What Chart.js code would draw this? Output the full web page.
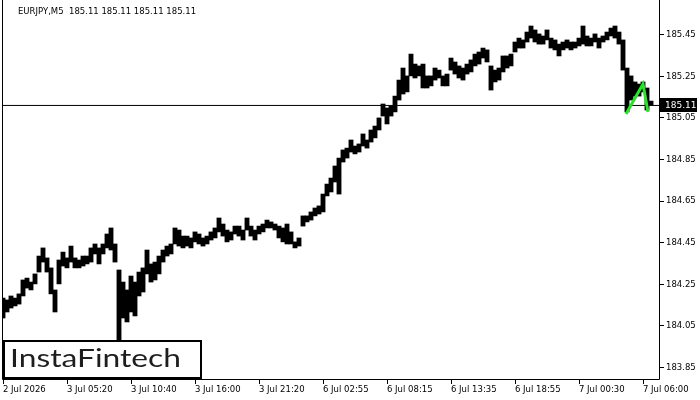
<!DOCTYPE html>
<html>
<head>
<meta charset="utf-8">
<script src="https://cdn.jsdelivr.net/npm/chart.js@4/dist/chart.umd.min.js"></script>
<style>
html,body{margin:0;padding:0;background:#fff;}
canvas{display:block;}
</style>
</head>
<body>
<canvas id="c" width="700" height="400"></canvas>
<script>
// ---- data (one sample every 4 bars of 5 minutes) ----
const symbolTitle = 'EURJPY,M5  185.11 185.11 185.11 185.11';
const xTickLabels = ['2 Jul 2026','3 Jul 05:20','3 Jul 10:40','3 Jul 16:00','3 Jul 21:20','6 Jul 02:55','6 Jul 08:15','6 Jul 13:35','6 Jul 18:55','7 Jul 00:30','7 Jul 06:00'];
const xTickPositions = [0,16,32,48,64,80,96,112,128,144,160];
const yTickValues = [183.85,184.05,184.25,184.45,184.65,184.85,185.05,185.25,185.45];
const lastPrice = 185.11;

const highs = [
184.184,184.175,184.194,184.184,184.204,184.271,184.280,184.261,184.300,184.386,
184.425,184.377,184.329,184.223,184.367,184.405,184.377,184.434,184.377,184.367,
184.386,184.386,184.425,184.444,184.425,184.444,184.492,184.521,184.444,184.319,
184.261,184.223,184.290,184.261,184.309,184.329,184.415,184.348,184.357,184.386,
184.415,184.434,184.444,184.521,184.511,184.482,184.482,184.473,184.502,184.492,
184.473,184.482,184.502,184.521,184.569,184.540,184.511,184.502,184.530,184.530,
184.511,184.569,184.530,184.511,184.530,184.540,184.559,184.550,184.540,184.530,
184.521,184.540,184.502,184.454,184.473,184.579,184.579,184.598,184.617,184.627,
184.684,184.732,184.761,184.819,184.857,184.896,184.905,184.944,184.915,184.925,
184.973,184.944,184.992,185.011,185.050,185.117,185.098,185.107,185.155,185.232,
185.290,185.252,185.357,185.309,185.300,185.309,185.252,185.252,185.290,185.280,
185.252,185.261,185.338,185.319,185.300,185.290,185.309,185.329,185.357,185.367,
185.386,185.377,185.300,185.280,185.290,185.348,185.348,185.357,185.415,185.434,
185.425,185.463,185.492,185.473,185.454,185.444,185.473,185.434,185.425,185.405,
185.415,185.425,185.415,185.415,185.434,185.492,185.444,185.434,185.454,185.434,
185.444,185.463,185.482,185.492,185.463,185.425,185.290,185.252,185.223,185.213,
185.223,185.194,185.131
];
const lows = [
184.088,184.117,184.136,184.146,184.155,184.194,184.232,184.223,184.252,184.309,
184.357,184.309,184.204,184.117,184.252,184.338,184.329,184.357,184.329,184.329,
184.338,184.348,184.357,184.396,184.348,184.396,184.425,184.415,184.357,183.982,
184.088,184.069,184.117,184.098,184.194,184.213,184.300,184.261,184.271,184.300,
184.357,184.386,184.396,184.444,184.434,184.425,184.434,184.425,184.454,184.444,
184.434,184.444,184.463,184.473,184.502,184.482,184.454,184.463,184.492,184.482,
184.463,184.511,184.482,184.463,184.492,184.502,184.521,184.521,184.511,184.473,
184.454,184.444,184.444,184.425,184.434,184.530,184.550,184.559,184.579,184.588,
184.598,184.675,184.694,184.742,184.684,184.838,184.857,184.886,184.877,184.886,
184.915,184.905,184.934,184.954,184.992,185.059,185.021,185.059,185.079,185.136,
185.165,185.175,185.252,185.242,185.252,185.194,185.194,185.204,185.232,185.242,
185.204,185.204,185.280,185.261,185.242,185.232,185.261,185.271,185.300,185.309,
185.338,185.319,185.184,185.223,185.232,185.271,185.290,185.300,185.367,185.386,
185.386,185.415,185.434,185.415,185.405,185.405,185.425,185.386,185.377,185.348,
185.377,185.386,185.377,185.386,185.396,185.405,185.396,185.396,185.415,185.386,
185.415,185.425,185.444,185.434,185.405,185.280,185.079,185.136,185.155,185.155,
185.175,185.088,185.112
];
// green pattern drawn at the end (sample position, price)
const patternPos = [155.75, 160, 161.25];
const patternPrice = [185.069, 185.213, 185.079];

Chart.defaults.font.family = 'DejaVu Sans';
Chart.defaults.font.size = 8.5;
Chart.defaults.color = '#000';

const decor = {
  id: 'decor',
  afterDraw(chart) {
    const {ctx, chartArea: a, scales: {y}} = chart;
    ctx.save();
    // frame (left, right, bottom)
    ctx.strokeStyle = '#000';
    ctx.lineWidth = 1;
    ctx.beginPath();
    ctx.moveTo(a.left + 0.5, a.top);
    ctx.lineTo(a.left + 0.5, a.bottom - 0.5);
    ctx.lineTo(a.right - 0.5, a.bottom - 0.5);
    ctx.lineTo(a.right - 0.5, a.top);
    ctx.stroke();
    // title
    ctx.fillStyle = '#000';
    ctx.font = '8.5px "DejaVu Sans"';
    ctx.textBaseline = 'middle';
    ctx.textAlign = 'left';
    ctx.fillText(symbolTitle, 18, 12);
    // last price box
    const yp = Math.round(y.getPixelForValue(lastPrice));
    ctx.fillStyle = '#000';
    ctx.fillRect(a.right, yp - 7, 37, 14);
    ctx.fillStyle = '#fff';
    ctx.font = '9px "DejaVu Sans"';
    ctx.fillText(lastPrice.toFixed(2), a.right + 5, yp + 0.5);
    // logo
    ctx.fillStyle = '#fff';
    ctx.fillRect(4, 341, 197, 37);
    ctx.strokeStyle = '#000';
    ctx.lineWidth = 2;
    ctx.strokeRect(4, 341, 197, 37);
    ctx.font = '25px Lato';
    ctx.textBaseline = 'alphabetic';
    const txt = 'InstaFintech';
    const w = ctx.measureText(txt).width;
    ctx.translate(10, 367);
    ctx.scale(171 / w, 1);
    ctx.fillStyle = '#1e1e1e';
    ctx.fillText(txt, 0, 0);
    ctx.restore();
  }
};

new Chart(document.getElementById('c'), {
  type: 'bar',
  data: {
    datasets: [
      {
        type: 'line',
        data: [{x: -0.25, y: lastPrice}, {x: 164.25, y: lastPrice}],
        borderColor: '#000', borderWidth: 1, pointRadius: 0, order: 2
      },
      {
        type: 'bar',
        data: highs.map((h, k) => ({x: k, y: [lows[k], h]})),
        backgroundColor: '#000', borderWidth: 0, barThickness: 4.2, order: 1
      },
      {
        type: 'line',
        data: patternPos.map((p, i) => ({x: p, y: patternPrice[i]})),
        borderColor: '#27e627', borderWidth: 3, pointRadius: 0, order: 0
      }
    ]
  },
  options: {
    responsive: false,
    animation: false,
    events: [],
    layout: {padding: {left: 2, top: 0, right: 0, bottom: 0}},
    plugins: {legend: {display: false}, tooltip: {enabled: false}},
    scales: {
      x: {
        type: 'linear', position: 'bottom', min: -0.25, max: 164.25, offset: false,
        grid: {display: true, offset: false, drawOnChartArea: false, drawTicks: true, tickLength: 4, color: '#000'},
        border: {display: false},
        ticks: {
          autoSkip: false, maxRotation: 0, minRotation: 0, align: 'start', padding: 1,
          callback: (v) => { const i = xTickPositions.indexOf(v); return i >= 0 ? xTickLabels[i] : ''; }
        },
        afterBuildTicks: (s) => { s.ticks = xTickPositions.map(v => ({value: v})); },
        afterFit: (s) => { s.height = 20; s.paddingLeft = 0; s.paddingRight = 0; }
      },
      y: {
        type: 'linear', position: 'right', min: 183.790, max: 185.617,
        grid: {display: true, drawOnChartArea: false, drawTicks: true, tickLength: 4, color: '#000'},
        border: {display: false},
        ticks: {autoSkip: false, padding: 2, callback: (v) => Number(v).toFixed(2)},
        afterBuildTicks: (s) => { s.ticks = yTickValues.map(v => ({value: v})); },
        afterFit: (s) => { s.width = 40; s.paddingTop = 0; s.paddingBottom = 0; }
      }
    }
  },
  plugins: [decor]
});
</script>
</body>
</html>
